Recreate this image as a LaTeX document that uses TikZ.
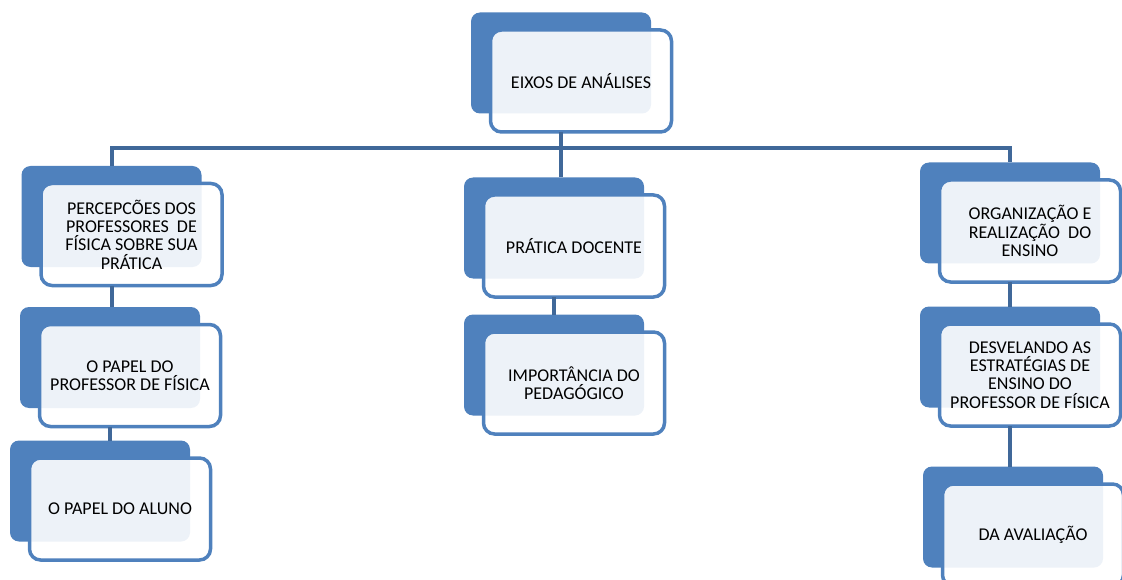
\documentclass[tikz,border=0pt]{standalone}
\usepackage{fontspec}
\setmainfont{Carlito}
\definecolor{boxblue}{RGB}{79,129,189}
\definecolor{linkblue}{RGB}{64,104,153}

\begin{document}
\begin{tikzpicture}[
	x=1pt, y=-1pt,
	backbox/.style={rectangle, fill=boxblue, rounded corners=9pt,
		minimum width=180pt, minimum height=101pt, inner sep=0pt},
	frontbox/.style={rectangle, draw=boxblue, line width=3.5pt,
		fill=white, fill opacity=0.9, text opacity=1,
		rounded corners=11pt, minimum width=181pt, minimum height=102pt,
		align=center, inner sep=2pt},
	link/.style={draw=linkblue, line width=4pt},
	every node/.style={outer sep=0pt, font=\fontsize{18}{18.4}\selectfont},
]
\useasboundingbox (0,0) rectangle (1122,580);
% Input 1: position of the blue back card, front card sits below right.
\def\eixo[#1](#2)#3{
	\node[backbox, #1](#2back){};
	\node[frontbox, xshift=20pt, yshift=-18pt] at (#2back) (#2){#3};
}
% \linkdown{upper}{lower}: vertical line under the back card.
\def\linkdown#1#2{
	\draw[link] (#1back.south |- #1.south) -- (#1back.south |- #2back.north);
}
	\eixo[at={(561,63)}](eixos){EIXOS DE ANÁLISES}

	\eixo[at={(111.5,216.5)}](percep){PERCEPCÕES DOS\\
		PROFESSORES\ \ DE\\FÍSICA SOBRE SUA\\PRÁTICA}
	\eixo[at={(110,357.5)}](papelprof){O PAPEL DO\\
		PROFESSOR DE FÍSICA}
	\eixo[at={(100,491)}](aluno){O PAPEL DO ALUNO}

	\eixo[at={(554,228)}](pratica){PRÁTICA DOCENTE}
	\eixo[at={(554,365)}](importancia){IMPORTÂNCIA DO\\PEDAGÓGICO}

	\eixo[at={(1010,213)}](organiz){ORGANIZAÇÃO E\\
		REALIZAÇÃO\ \ DO\\ENSINO}
	\eixo[at={(1010,357)}](desvel){DESVELANDO AS\\
		ESTRATÉGIAS DE\\ENSINO DO\\PROFESSOR DE FÍSICA}
	\eixo[at={(1013,517)}](avalia){DA AVALIAÇÃO}

	\coordinate (bus) at (eixosback.south |- 0,148);
	\draw[link] (eixosback.south |- eixos.south) -- (eixosback.south |- praticaback.north);
	\draw[link] (percepback.north) |- (bus) -| (organizback.north);
	\linkdown{percep}{papelprof}
	\linkdown{papelprof}{aluno}
	\linkdown{pratica}{importancia}
	\linkdown{organiz}{desvel}
	\linkdown{desvel}{avalia}
\end{tikzpicture}
\end{document}
